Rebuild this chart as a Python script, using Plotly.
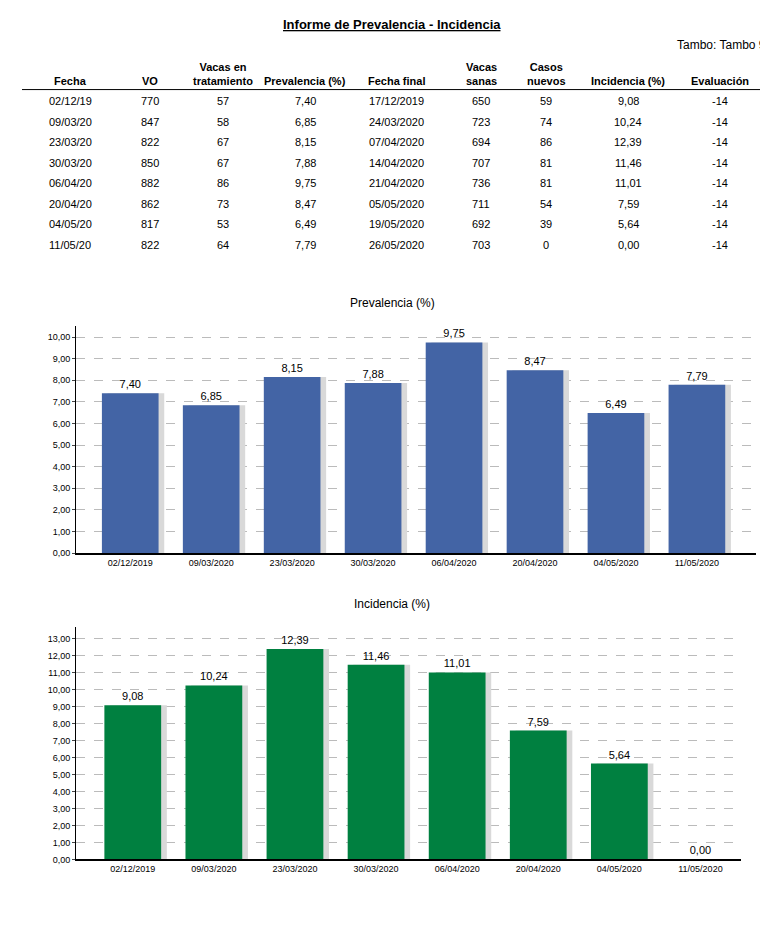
import plotly.graph_objects as go

fechas = ["02/12/19", "09/03/20", "23/03/20", "30/03/20", "06/04/20", "20/04/20", "04/05/20", "11/05/20"]
vo = [770, 847, 822, 850, 882, 862, 817, 822]
tratamiento = [57, 58, 67, 67, 86, 73, 53, 64]
prevalencia = [7.40, 6.85, 8.15, 7.88, 9.75, 8.47, 6.49, 7.79]
fecha_final = ["17/12/2019", "24/03/2020", "07/04/2020", "14/04/2020", "21/04/2020", "05/05/2020", "19/05/2020", "26/05/2020"]
sanas = [650, 723, 694, 707, 736, 711, 692, 703]
casos = [59, 74, 86, 81, 81, 54, 39, 0]
incidencia = [9.08, 10.24, 12.39, 11.46, 11.01, 7.59, 5.64, 0.00]
evaluacion = [-14] * 8
categorias = ["02/12/2019", "09/03/2020", "23/03/2020", "30/03/2020", "06/04/2020", "20/04/2020", "04/05/2020", "11/05/2020"]

W, H = 768, 940
FONT = "Liberation Sans, Arial, sans-serif"


def py(p):
    return 1 - p / H


def px(p):
    return p / W


def note(x, y, text, size=11, xanchor="center", yanchor="middle"):
    return dict(x=x, y=y, xref="paper", yref="paper", text=text, font=dict(size=size),
                showarrow=False, xanchor=xanchor, yanchor=yanchor, align="center")


fig = go.Figure()
annotations = []

# title
annotations.append(note(px(384), py(17), "<b><u>Informe de Prevalencia - Incidencia</u></b>", size=13))
annotations.append(note(px(760), py(37), "Tambo: Tambo 9", size=12, xanchor="right"))

# table
headers = ["Fecha", "VO", "Vacas en<br>tratamiento", "Prevalencia (%)", "Fecha final",
           "Vacas<br>sanas", "Casos<br>nuevos", "Incidencia (%)", "Evaluación"]
col_x = [62, 142, 215, 297, 388, 473, 538, 620, 712]
for h, cx in zip(headers, col_x):
    annotations.append(note(px(cx), py(81), "<b>" + h + "</b>", size=11, yanchor="bottom"))
cols = [fechas, vo, tratamiento, [f"{v:.2f}".replace(".", ",") for v in prevalencia], fecha_final,
        sanas, casos, [f"{v:.2f}".replace(".", ",") for v in incidencia], evaluacion]
for i in range(len(fechas)):
    for col, cx in zip(cols, col_x):
        annotations.append(note(px(cx), py(94 + i * 20.6), str(col[i]), size=11))

shapes = [dict(type="line", xref="paper", yref="paper", x0=px(14), x1=px(758), y0=py(82), y1=py(82),
               line=dict(color="black", width=1))]

# charts
for n, (vals, color, title, ytop, ybot, xr, rng, xrange) in enumerate([
        (prevalencia, "#4364A5", "Prevalencia (%)", 320, 548, 748, 10.5, [-0.67, 7.73]),
        (incidencia, "#008040", "Incidencia (%)", 622, 856, 733, 13.7, [-0.7, 7.5])]):
    xa = "x" if n == 0 else "x2"
    ya = "y" if n == 0 else "y2"
    fig.add_trace(go.Bar(x=categorias, y=vals, xaxis=xa, yaxis=ya, marker_color="#D9D9D9",
                         marker_line_width=0, width=0.7, offset=-0.28, hoverinfo="skip", showlegend=False))
    fig.add_trace(go.Bar(x=categorias, y=vals, xaxis=xa, yaxis=ya, marker_color=color,
                         marker_line_width=0, width=0.7, offset=-0.35, showlegend=False,
                         texttemplate="%{y:.2f}", textposition="outside",
                         textfont=dict(size=11, color="black"), cliponaxis=False))
    suffix = "" if n == 0 else "2"
    fig.layout["xaxis" + suffix] = dict(domain=[px(68), px(xr)], anchor=ya, range=xrange, showline=True,
                                        linecolor="black", linewidth=2, ticks="", tickfont=dict(size=9),
                                        fixedrange=True)
    fig.layout["yaxis" + suffix] = dict(domain=[py(ybot), py(ytop)], anchor=xa, range=[0, rng], dtick=1,
                                        tickformat=".2f", showline=True, linecolor="black", linewidth=1,
                                        ticks="outside", ticklen=3, tickfont=dict(size=9),
                                        gridcolor="#BBBBBB", griddash="dash", zeroline=False)
    annotations.append(note(px(384), py(ytop - 23), title, size=12))

fig.update_layout(width=W, height=H, margin=dict(l=0, r=0, t=0, b=0), barmode="overlay",
                  separators=",.", plot_bgcolor="white", paper_bgcolor="white",
                  font=dict(family=FONT, color="black"), annotations=annotations, shapes=shapes)

fig.write_html("out.html")
